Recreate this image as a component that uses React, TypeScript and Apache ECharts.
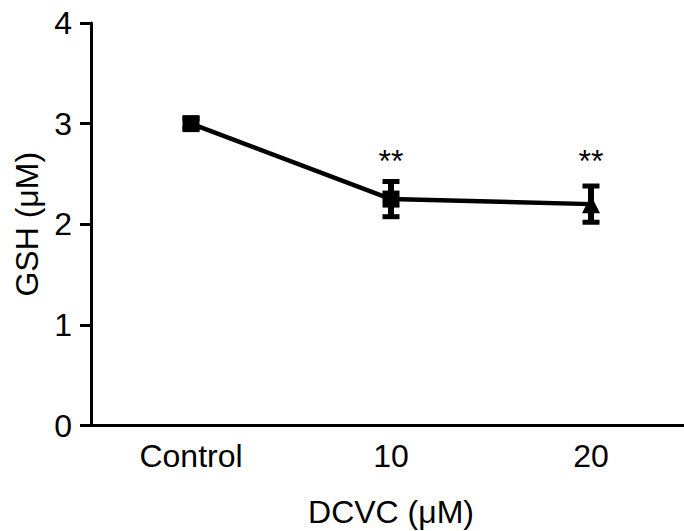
import React, { useEffect, useRef } from "react";
import * as echarts from "echarts";

const categories = ["Control", "10", "20"];
const means = [3.0, 2.25, 2.2];
const errors = [0.05, 0.175, 0.18];
const markers = ["rect", "rect", "triangle"];
const significance = ["", "**", "**"];
const yTicks = [0, 1, 2, 3, 4];

const FONT = "'Liberation Sans', Arial, Helvetica, sans-serif";
const SIG_Y = 2.63;

export default function App() {
  const ref = useRef<HTMLDivElement>(null);
  useEffect(() => {
    if (!ref.current) return;
    const chart = echarts.init(ref.current, null, { renderer: "svg" });
    const errData = categories.map((_, i) => [i, means[i], errors[i]]);
    chart.setOption({
      animation: false,
      backgroundColor: "#ffffff",
      grid: {
        left: 91,
        width: 600,
        top: 23,
        bottom: 105.5,
        containLabel: false,
        outerBoundsMode: "none",
      },
      xAxis: {
        type: "category",
        data: categories,
        boundaryGap: true,
        name: "DCVC (μM)",
        nameLocation: "middle",
        nameGap: 70,
        nameTextStyle: { fontFamily: FONT, fontSize: 32, color: "#000" },
        axisLine: { lineStyle: { color: "#000", width: 3 } },
        axisTick: { alignWithLabel: true, length: 11, lineStyle: { color: "#000", width: 3 } },
        axisLabel: { fontFamily: FONT, fontSize: 32, color: "#000", margin: 14 },
        splitLine: { show: false },
      },
      yAxis: {
        type: "value",
        min: yTicks[0],
        max: yTicks[yTicks.length - 1],
        interval: 1,
        name: "GSH (μM)",
        nameLocation: "middle",
        nameGap: 42,
        nameTextStyle: { fontFamily: FONT, fontSize: 32, color: "#000" },
        axisLine: { show: true, lineStyle: { color: "#000", width: 3 } },
        axisTick: { show: true, length: 11, lineStyle: { color: "#000", width: 3 } },
        axisLabel: { fontFamily: FONT, fontSize: 32, color: "#000", margin: 19 },
        splitLine: { show: false },
      },
      series: [
        {
          type: "line",
          data: means.map((v, i) => ({
            value: v,
            symbol: markers[i],
            symbolSize: markers[i] === "triangle" ? [18, 18] : [17, 17],
          })),
          lineStyle: { color: "#000", width: 4.5 },
          itemStyle: { color: "#000" },
          z: 2,
        },
        {
          type: "custom",
          data: errData,
          z: 3,
          renderItem: (params: any, api: any) => {
            const i = api.value(0);
            const m = api.value(1);
            const e = api.value(2);
            const top = api.coord([i, m + e]);
            const bot = api.coord([i, m - e]);
            const capW = 17;
            const capH = 5;
            const children: any[] = [
              {
                type: "rect",
                shape: { x: top[0] - 3, y: top[1], width: 6, height: bot[1] - top[1] },
                style: { fill: "#000" },
              },
              {
                type: "rect",
                shape: { x: top[0] - capW / 2, y: top[1] - capH / 2, width: capW, height: capH },
                style: { fill: "#000" },
              },
              {
                type: "rect",
                shape: { x: bot[0] - capW / 2, y: bot[1] - capH / 2, width: capW, height: capH },
                style: { fill: "#000" },
              },
            ];
            const sig = significance[params.dataIndex];
            if (sig) {
              const p = api.coord([i, SIG_Y]);
              children.push({
                type: "text",
                x: p[0],
                y: p[1],
                style: {
                  text: sig,
                  fontFamily: FONT,
                  fontSize: 32,
                  fill: "#000",
                  align: "center",
                  verticalAlign: "middle",
                },
              });
            }
            return { type: "group", children };
          },
        },
      ],
    });
    return () => chart.dispose();
  }, []);
  return <div ref={ref} style={{ width: 684, height: 531, position: "fixed", left: 0, top: 0 }} />;
}
